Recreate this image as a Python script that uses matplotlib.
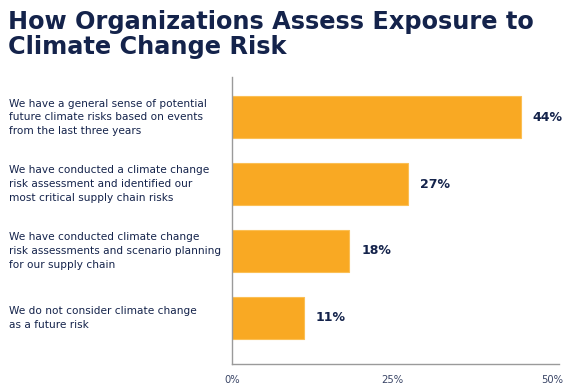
import matplotlib.pyplot as plt
from matplotlib import transforms

# survey answers, top to bottom
categories = [
    "We have a general sense of potential\nfuture climate risks based on events\nfrom the last three years",
    "We have conducted a climate change\nrisk assessment and identified our\nmost critical supply chain risks",
    "We have conducted climate change\nrisk assessments and scenario planning\nfor our supply chain",
    "We do not consider climate change\nas a future risk",
]
# bar lengths as drawn, and the printed labels
values = [45, 27.5, 18.3, 11.2]
value_labels = ["44%", "27%", "18%", "11%"]
ticks = [0, 25, 50]
tick_labels = ["0%", "25%", "50%"]

navy = "#14234b"
bar_color = "#f9a923"

fig = plt.figure(figsize=(5.75, 3.92), dpi=100)
ax = fig.add_axes([0.4035, 0.0714, 0.5687, 0.732])

pos = list(range(len(categories)))
ax.barh(pos, values, height=0.63, color=bar_color, edgecolor="#fbbf55", linewidth=0.8)

for p, v, lab in zip(pos, values, value_labels):
    ax.annotate(lab, (v, p), xytext=(8.5, 0), textcoords="offset points",
                ha="left", va="center", fontsize=9, fontweight="bold", color=navy)

# category text sits at the far left of the figure
trans = transforms.blended_transform_factory(fig.transFigure, ax.transData)
for p, cat in zip(pos, categories):
    ax.text(0.016, p, cat, transform=trans, ha="left", va="center",
            fontsize=7.6, color=navy, linespacing=1.45)

ax.set_xlim(0, 51)
ax.set_ylim(3.69, -0.6)
ax.set_yticks([])
ax.set_xticks(ticks)
ax.set_xticklabels(tick_labels, fontsize=7.2, color="#3a4566")
ax.tick_params(axis="x", length=0, pad=8)
for s in ["top", "right"]:
    ax.spines[s].set_visible(False)
for s in ["left", "bottom"]:
    ax.spines[s].set_color("#9a9a9a")
    ax.spines[s].set_linewidth(1)

fig.text(0.014, 0.975, "How Organizations Assess Exposure to\nClimate Change Risk",
         ha="left", va="top", fontsize=17.3, fontweight="bold", color=navy, linespacing=1.07)

fig.savefig("out.png", dpi=100)
